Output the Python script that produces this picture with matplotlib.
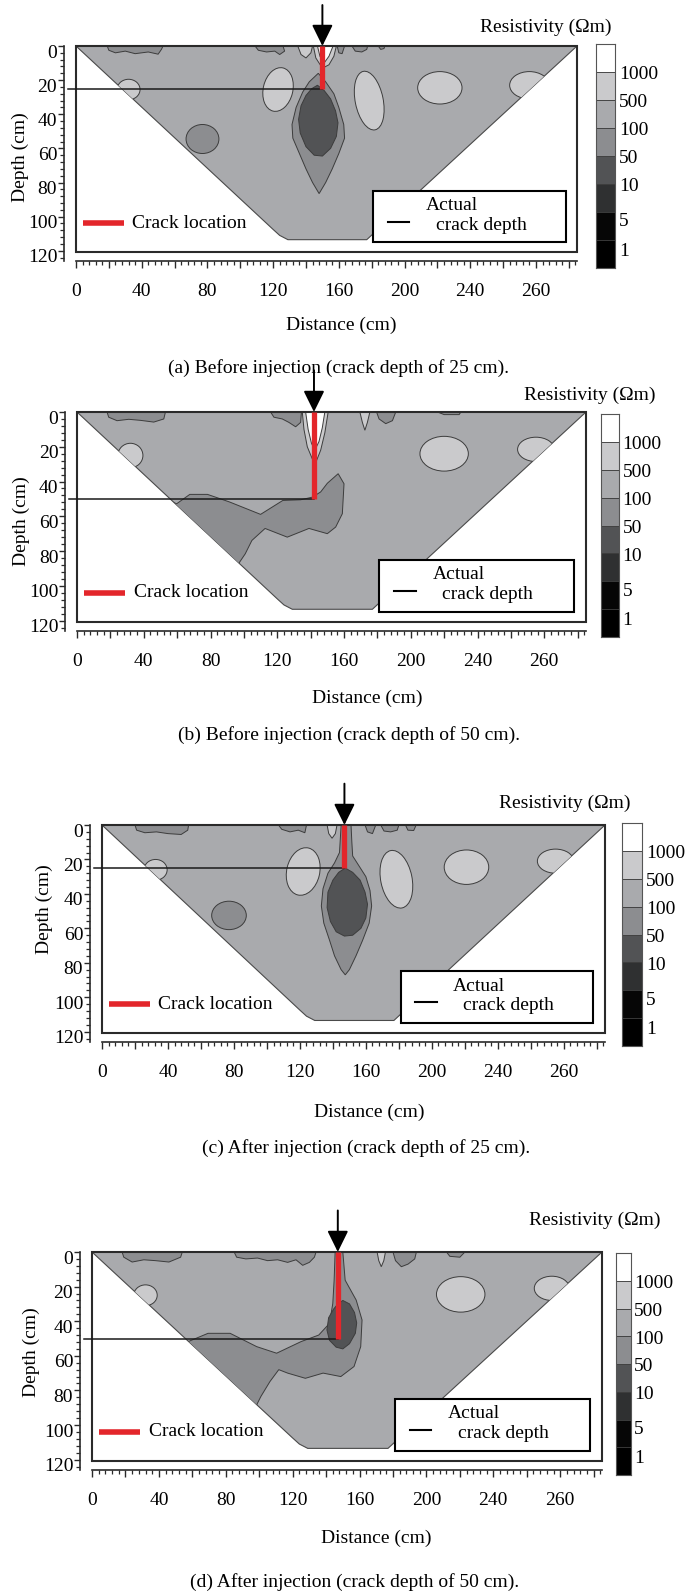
import matplotlib.pyplot as plt
import numpy as np
from matplotlib.patches import Polygon, Ellipse, Rectangle
from matplotlib.transforms import ScaledTranslation

plt.rcParams['font.family'] = ['Liberation Serif', 'DejaVu Serif']
plt.rcParams['font.size'] = 14

# resistivity classes, lowest first: <1, 1-5, 5-10, 10-50, 50-100, 100-500, 500-1000, >1000 (Ohm m)
band_colors = ['#000000', '#060606', '#2f3031', '#525355', '#8c8d90', '#a9aaad', '#cacacc', '#ffffff']
cbar_labels = ['1', '5', '10', '50', '100', '500', '1000']
cbar_label_pos = [0.6, 1.65, 2.9, 3.9, 4.9, 5.9, 6.9]

# pseudo-section outline (distance cm, depth cm)
section_x = [0, 305, 177, 129, 124, 120]
section_z = [0, 0, 113.5, 113.5, 111, 107.5]

xtick_pos = [0, 40, 80, 120, 160, 200, 240, 280]
xtick_text = ['0', '40', '80', '120', '160', '200', '240', '260']
ytick_pos = [0, 20, 40, 60, 80, 100, 120]

crack_x = [150, 142, 147, 147]
crack_depth = [25, 50, 25, 50]
captions = ['(a) Before injection (crack depth of 25 cm).',
            '(b) Before injection (crack depth of 50 cm).',
            '(c) After injection (crack depth of 25 cm).',
            '(d) After injection (crack depth of 50 cm).']

# elliptic anomalies: centre x, centre depth, width, height, tilt (deg), class
blobs_a = [(123, 25.5, 18, 26, 14, 6), (178.5, 32, 17, 35, -12, 6), (221.5, 24.5, 27, 19, 0, 6),
           (276, 23, 24, 16, 0, 6), (32, 25.5, 14, 12, 0, 6), (77, 54.5, 20, 17, 0, 4)]
blobs_b = [(220, 24, 29, 20, 0, 6), (275, 21.5, 22, 14, 0, 6), (32, 25, 15, 14, 0, 6)]
blobs_c = [(122, 27, 20, 28, 14, 6), (178.5, 31.5, 19, 34, -12, 6), (221, 24.5, 27, 20, 0, 6),
           (275, 21, 22, 14, 0, 6), (32.5, 26, 14, 12, 0, 6), (77, 52.5, 21, 16.5, 0, 4)]
blobs_d = [(220.5, 24.5, 29, 20.5, 0, 6), (275, 21, 21, 14, 0, 6), (32, 25, 14, 12, 0, 6)]

# irregular contour zones: class, outline
zones_a = [
    (4, [(19, 0), (20, 2.5), (24, 4), (30, 3), (36, 4.5), (44, 3.5), (50, 4.8), (52, 2), (53, 0)]),
    (4, [(109, 0), (111, 2.5), (116, 3.5), (121, 3), (124, 5), (127, 3), (126, 0)]),
    (4, [(168, 0), (170, 3), (174, 3.5), (177, 2), (177.5, 0)]),
    (4, [(184, 0), (185.5, 2), (187.5, 1.5), (188, 0)]),
    (6, [(135, 0), (137, 5), (140, 7), (143, 4), (144, 0)]),
    (6, [(144.5, 0), (146, 7), (150, 13), (154, 11), (157, 6), (158.5, 0)]),
    (7, [(147, 0), (148.5, 6), (151, 10), (154, 6), (156.5, 0)]),
    (4, [(159, 0), (160, 4), (162, 4.5), (163.5, 0)]),
    (4, [(147.5, 16), (152, 21), (157, 28), (160, 36), (163, 46), (163.5, 54), (160, 63),
         (156, 72), (152, 80), (148, 86.5), (144, 80), (140, 72), (136, 63), (132, 54),
         (131.5, 46), (134, 36), (138, 27), (142, 21)]),
    (3, [(147, 23), (151, 26), (155, 31), (158, 38), (159.5, 45), (158.5, 53), (155, 60),
         (150, 64.5), (145, 64), (140, 59), (136.5, 51), (135.5, 43), (137, 35), (140, 29),
         (143.5, 25)]),
]
zones_b = [
    (4, [(18, 0), (19, 3), (24, 5), (31, 4.2), (38, 4.8), (46, 5.8), (52, 4), (53, 0)]),
    (4, [(116, 0), (118, 3), (123, 4), (127, 6), (131, 8.5), (134, 6), (134.5, 0)]),
    (4, [(179.5, 0), (181, 4), (185, 6.7), (189, 5), (191, 0)]),
    (4, [(216, 0), (220, 1.5), (229, 1.5), (230, 0)]),
    (6, [(169.5, 0), (171, 6), (172.5, 10.5), (174, 6), (175.5, 0)]),
    (6, [(135, 0), (136, 10), (138, 20), (141, 27), (143.5, 28), (146, 22), (148.5, 12), (150.5, 0)]),
    (7, [(137, 0), (138.5, 10), (140.5, 18), (142.5, 22), (145, 17), (147, 9), (148.5, 0)]),
    (4, [(40, 45), (59.7, 52.8), (67.6, 47.4), (78.2, 47.4), (91.5, 51.8), (110, 58.9),
         (123.3, 50.9), (134, 50.5), (141, 49), (146, 46), (150, 41), (156.5, 35.5), (160, 41.3),
         (159, 58.5), (155, 66.2), (150, 70), (139, 67), (126, 72), (112.7, 67), (104.8, 73.9),
         (100.8, 81.6), (96.8, 87.3), (80, 100), (40, 100)]),
]
zones_c = [
    (4, [(20, 0), (21, 3), (26, 4.5), (33, 4), (40, 5), (48, 5.5), (52, 3), (52.5, 0)]),
    (4, [(107, 0), (109, 2.5), (114, 4), (119, 3), (123, 4.5), (124, 0)]),
    (4, [(159.5, 0), (161, 4), (164, 5), (166, 0)]),
    (4, [(169, 0), (171, 3.5), (175, 4), (179, 3), (180, 0)]),
    (4, [(184, 0), (185.5, 3), (189, 3.2), (190.5, 0)]),
    (6, [(136.5, 0), (137.5, 5), (139.5, 7.7), (141.5, 5), (142.5, 0)]),
    (4, [(145, 0), (151, 0), (151.5, 10), (152, 18), (156, 24), (160, 30), (162.5, 38),
         (163.5, 47), (162, 57), (158, 67), (154, 76), (150, 84), (147.5, 87), (145, 84),
         (141, 76), (138, 67), (134.5, 57), (133, 47), (134, 37), (137, 28), (141, 22),
         (144, 16), (144.5, 8)]),
    (3, [(147.5, 25), (152, 27.5), (156.5, 32), (159.5, 39), (161, 46), (160, 54), (157, 60),
         (152, 64), (147, 64.5), (142, 62), (138.5, 56), (136.5, 48), (137, 39), (140, 32),
         (143.5, 27.5)]),
]
zones_d = [
    (4, [(18, 0), (19, 3), (24, 5.8), (31, 4.5), (38, 5), (46, 5.8), (53, 3), (54, 0)]),
    (4, [(85, 0), (86.5, 3), (92, 4), (99, 3.5), (105, 5), (111, 4.5), (117, 6), (122, 4.5),
         (126, 7.7), (130, 6), (133, 3), (134, 0)]),
    (4, [(180, 0), (181.5, 5), (185, 8.5), (189, 7), (193, 4), (194, 0)]),
    (4, [(212, 0), (214, 2.5), (220, 3), (223, 0)]),
    (6, [(170.5, 0), (171.5, 5), (173, 8.5), (174.5, 5), (175.5, 0)]),
    (4, [(40, 45), (57.5, 51.8), (69.4, 47), (82.6, 47), (98.5, 54.7), (110.4, 58.5),
         (125, 51.8), (135.6, 48), (142, 41.3), (144, 29.8), (144.8, 16.3), (145.4, 0),
         (150, 0), (151.4, 16.3), (158, 27.8), (161.5, 39.3), (160.7, 54.7), (156.7, 66.2),
         (148.8, 72), (138.2, 70), (127.6, 73), (117, 70), (111.7, 68), (106.4, 74.9),
         (101, 83.5), (98.5, 88.3), (80, 100), (40, 100)]),
    (3, [(150, 28), (154, 30), (157, 35), (158.3, 41), (157.5, 47), (154, 53), (150, 56),
         (146, 55), (142, 51), (140.5, 45), (141.5, 38), (144.5, 33), (147, 30)]),
]

# page layout in pixels: section frame (left, right, top, ruler), colour bar (left, right, top, bottom)
layout = [
    dict(frame=(76, 577, 46, 261), cbar=(596, 615, 44, 268), res=(546, 27), ylab=(20, 157), xlab=(341, 325), cap=(338, 368)),
    dict(frame=(77, 586, 412, 631), cbar=(601, 619, 414, 637), res=(590, 395), ylab=(21, 521), xlab=(367, 698), cap=(349, 735)),
    dict(frame=(102, 605, 825, 1042), cbar=(622, 642, 823, 1046), res=(565, 803), ylab=(44, 909), xlab=(369, 1112), cap=(366, 1148)),
    dict(frame=(92, 602, 1252, 1470), cbar=(616, 631, 1253, 1475), res=(595, 1220), ylab=(31, 1352), xlab=(376, 1538), cap=(355, 1582)),
]

W, H = 694, 1593
fig = plt.figure(figsize=(W / 100, H / 100), dpi=100)
red = '#e3262b'
line_col = '#3c3c3c'


def rect(l, r, t, b):
    return [l / W, 1 - b / H, (r - l) / W, (b - t) / H]


def fx(x, y):
    return x / W, 1 - y / H


def draw_panel(k, blobs, zones):
    lay = layout[k]
    ax = fig.add_axes(rect(*lay['frame']))
    ax.set_xlim(0, 305)
    ax.set_ylim(126, 0)

    section = Polygon(np.column_stack([section_x, section_z]), closed=True,
                      fc=band_colors[5], ec='#4a4a4a', lw=0.8, zorder=1)
    ax.add_patch(section)
    for cx, cz, w, h, tilt, lev in blobs:
        e = Ellipse((cx, cz), w, h, angle=tilt, fc=band_colors[lev], ec=line_col, lw=0.7, zorder=2)
        e.set_clip_path(section)
        ax.add_patch(e)
    for lev, pts in zones:
        p = Polygon(pts, closed=True, fc=band_colors[lev], ec=line_col, lw=0.7, zorder=2)
        p.set_clip_path(section)
        ax.add_patch(p)

    ax.add_patch(Rectangle((0, 0), 305, 121, fill=False, ec='#2a2a2a', lw=1.5,
                           clip_on=False, zorder=5))

    # crack, its depth and the electrode arrow
    cx, cd = crack_x[k], crack_depth[k]
    ax.plot([-5, cx], [cd, cd], color='#1a1a1a', lw=1.1, clip_on=False, zorder=6)
    ax.plot([cx, cx], [0, cd], color=red, lw=3.8, solid_capstyle='butt', clip_on=False, zorder=7)
    ax.annotate('', xy=(cx, 0), xytext=(cx, -24), annotation_clip=False,
                arrowprops=dict(arrowstyle='-|>,head_length=0.65,head_width=0.32',
                                mutation_scale=20, lw=1.4, color='black',
                                shrinkA=0, shrinkB=0))

    # legends
    ax.plot([4, 29], [104, 104], color=red, lw=4, solid_capstyle='butt', zorder=6)
    ax.text(34, 104, 'Crack location', va='center', ha='left', zorder=6)
    ax.add_patch(Rectangle((181, 85), 117, 30, fc='white', ec='black', lw=1.5, zorder=7))
    ax.plot([190, 203], [103, 103], color='black', lw=1.5, zorder=8)
    ax.text(213, 93.5, 'Actual', va='center', ha='left', zorder=8)
    ax.text(219, 105, 'crack depth', va='center', ha='left', zorder=8)

    # rulers
    for s in ('top', 'right'):
        ax.spines[s].set_visible(False)
    ax.spines['left'].set_position(('outward', 9))
    ax.spines['left'].set_bounds(0, 126)
    ax.spines['bottom'].set_bounds(0, 305)
    for s in ('left', 'bottom'):
        ax.spines[s].set_linewidth(1.2)
        ax.spines[s].set_color('#2a2a2a')
    ax.set_xticks(list(range(0, 301, 20)))
    ax.set_xticklabels([xtick_text[xtick_pos.index(v)] if v in xtick_pos else ''
                        for v in range(0, 301, 20)])
    ax.set_xticks(list(range(0, 306, 4)), minor=True)
    ax.set_yticks(ytick_pos)
    ax.set_yticks(list(range(0, 127, 4)), minor=True)
    ax.tick_params(axis='x', which='major', direction='out', length=5, width=1.0, pad=11,
                   color='#2a2a2a')
    ax.tick_params(axis='x', which='minor', direction='out', length=3, width=0.9, color='#2a2a2a')
    ax.tick_params(axis='y', which='major', direction='out', length=4, width=1.0, pad=0.5,
                   color='#2a2a2a')
    ax.tick_params(axis='y', which='minor', direction='out', length=3, width=0.9, color='#2a2a2a')
    shift = ScaledTranslation(0, -0.05, fig.dpi_scale_trans)
    for lab in ax.get_yticklabels():
        lab.set_transform(lab.get_transform() + shift)

    # colour bar
    cax = fig.add_axes(rect(*lay['cbar']))
    for i, c in enumerate(band_colors):
        cax.add_patch(Rectangle((0, i), 1, 1, fc=c, ec='#3a3a3a', lw=0.6))
    cax.set_xlim(0, 1)
    cax.set_ylim(0, 8)
    cax.set_xticks([])
    cax.set_yticks([])
    for s in cax.spines.values():
        s.set_color('#555555')
        s.set_linewidth(0.8)
    for lab, pos in zip(cbar_labels, cbar_label_pos):
        cax.text(1.2, pos, lab, va='center', ha='left')

    fig.text(*fx(*lay['res']), 'Resistivity (\u03a9m)', ha='center', va='center')
    fig.text(*fx(*lay['ylab']), 'Depth (cm)', ha='center', va='center', rotation=90)
    fig.text(*fx(*lay['xlab']), 'Distance (cm)', ha='center', va='center')
    fig.text(*fx(*lay['cap']), captions[k], ha='center', va='center')


draw_panel(0, blobs_a, zones_a)
draw_panel(1, blobs_b, zones_b)
draw_panel(2, blobs_c, zones_c)
draw_panel(3, blobs_d, zones_d)

fig.savefig('out.png', dpi=100)
